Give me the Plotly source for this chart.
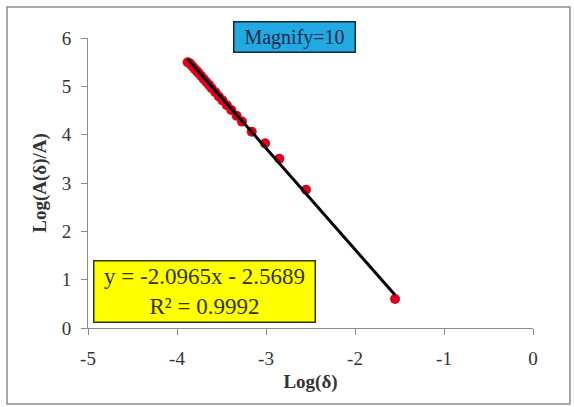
import plotly.graph_objects as go

# Data
log_delta = [-3.88, -3.86, -3.84, -3.82, -3.80, -3.78, -3.76, -3.73, -3.70, -3.67,
             -3.64, -3.61, -3.57, -3.53, -3.49, -3.44, -3.39, -3.33, -3.27, -3.16,
             -3.01, -2.85, -2.55, -1.55]
log_ratio = [5.50, 5.48, 5.44, 5.40, 5.36, 5.32, 5.28, 5.22, 5.15, 5.09,
             5.03, 4.96, 4.88, 4.79, 4.71, 4.61, 4.51, 4.39, 4.27, 4.06,
             3.82, 3.50, 2.86, 0.60]
slope = -2.0965
intercept = -2.5689
r2 = 0.9992
x_ticks = [-5, -4, -3, -2, -1, 0]
y_ticks = [0, 1, 2, 3, 4, 5, 6]

fit_x = [min(log_delta), max(log_delta)]
fit_y = [slope * v + intercept for v in fit_x]

font_fam = "Liberation Serif, Times New Roman, serif"

fig = go.Figure()
fig.add_trace(go.Scatter(x=log_delta, y=log_ratio, mode="markers",
                         marker=dict(color="#e3001b", size=10), showlegend=False))
fig.add_trace(go.Scatter(x=fit_x, y=fit_y, mode="lines",
                         line=dict(color="black", width=3), showlegend=False))

axis_common = dict(showgrid=False, zeroline=False, showline=True, linecolor="#8c8c8c",
                   linewidth=1, ticks="outside", ticklen=6, tickcolor="#8c8c8c",
                   tickfont=dict(family=font_fam, size=19, color="#333333"))

fig.update_layout(
    width=574, height=407,
    margin=dict(l=88, r=41, t=38, b=79),
    font=dict(family=font_fam),
    paper_bgcolor="white", plot_bgcolor="white",
    xaxis=dict(range=[-5, 0], tickvals=x_ticks, ticktext=[str(v) for v in x_ticks],
               ticklabelstandoff=7,
               title=dict(text="<b>Log(δ)</b>", font=dict(family=font_fam, size=19, color="#333333"),
                          standoff=6),
               **axis_common),
    yaxis=dict(range=[0, 6], tickvals=y_ticks, ticklabelstandoff=6,
               title=dict(text="<b>Log(A(δ)/A)</b>", font=dict(family=font_fam, size=19, color="#333333"),
                          standoff=10),
               **axis_common),
    shapes=[dict(type="rect", xref="paper", yref="paper", x0=-0.182, x1=1.083, y0=-0.262, y1=1.107,
                 line=dict(color="#8c8c8c", width=1.5), fillcolor="rgba(0,0,0,0)", layer="below")],
    annotations=[
        dict(text="Magnify=10", xref="paper", yref="paper", x=0.465, y=0.948, xanchor="center",
             yanchor="bottom", showarrow=False, bgcolor="#21a9e1", bordercolor="#1a2a3a",
             borderwidth=1.5, width=118, height=27, borderpad=1,
             font=dict(family=font_fam, size=20, color="#1a2a4a")),
        dict(text=f"y = {slope}x - {abs(intercept)}<br>R² = {r2}", xref="paper", yref="paper",
             x=0.262, y=0.017, xanchor="center", yanchor="bottom", showarrow=False,
             bgcolor="#ffff00", bordercolor="#333333", borderwidth=1.5, borderpad=2,
             width=216, height=56,
             align="center", font=dict(family=font_fam, size=23, color="#333300")),
    ],
)

fig.write_html("out.html")
